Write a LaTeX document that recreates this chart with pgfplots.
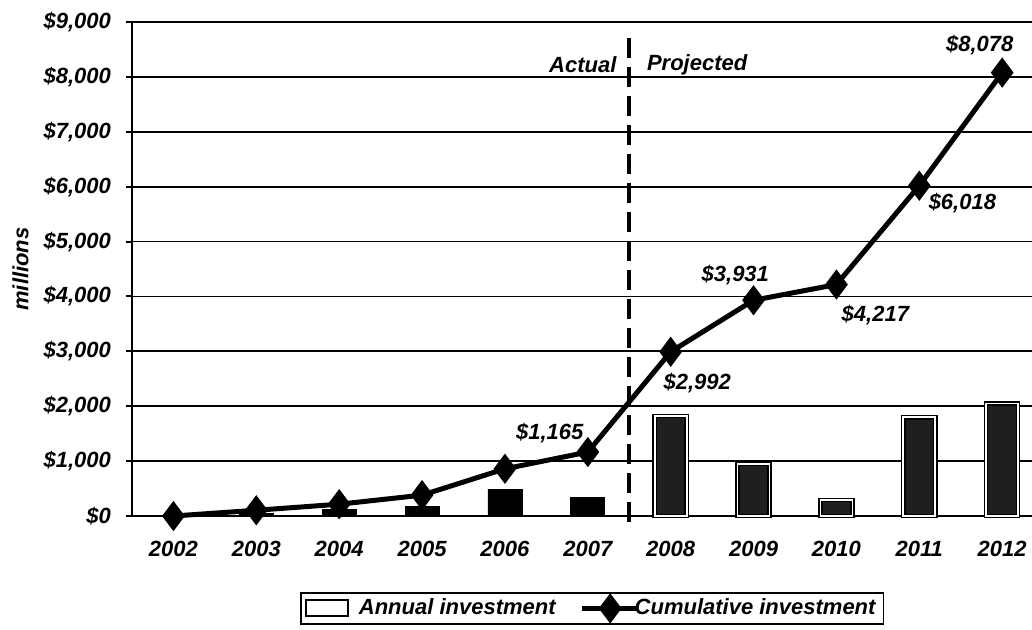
\documentclass[border=0pt]{standalone}
\usepackage{pgfplots}
\pgfplotsset{compat=1.18}
\usepackage{fontspec}
\setmainfont{Liberation Sans}
\newcommand\lf{\fontsize{11}{13}\selectfont\bfseries\itshape}
\pgfplotsset{mylineleg/.style={legend image code/.code={\draw[mark repeat=2,mark phase=2,##1] plot coordinates {(0pt,0pt) (14pt,0pt) (28pt,0pt)};}}}
\begin{document}
\begin{tikzpicture}
\begin{axis}[
  at={(0,0)}, anchor=south west,
  scale only axis, width=450pt, height=247pt,
  xmin=-0.5, xmax=10.36, ymin=0, ymax=9000,
  axis x line*=bottom, axis y line*=left,
  axis line style={black, line width=1pt},
  clip=false,
  tick align=outside,
  xtick={0,...,10},
  xticklabels={2002,2003,2004,2005,2006,2007,2008,2009,2010,2011,2012},
  xtick style={draw=none},
  minor xtick={-0.5,0.5,...,9.5},
  minor tick length=5pt,
  minor x tick style={black, line width=1pt},
  ytick={0,1000,...,9000},
  yticklabels={\$0,\$1{,}000,\$2{,}000,\$3{,}000,\$4{,}000,\$5{,}000,\$6{,}000,\$7{,}000,\$8{,}000,\$9{,}000},
  major tick length=3pt,
  y tick style={black, line width=1pt},
  ymajorgrids, major grid style={black, line width=0.9pt},
  tick label style={font=\lf},
  xticklabel style={yshift=-6pt},
  yticklabel style={xshift=-4pt},
  ylabel={millions}, ylabel style={font=\lf, at={(axis description cs:-0.124,0.5)}, anchor=center},
  legend style={at={(rel axis cs:0.187,-0.154)}, anchor=north west, draw=black, line width=0.8pt,
    font=\lf, legend columns=-1, inner xsep=2pt, inner ysep=1pt,
    /tikz/every odd column/.append style={column sep=-5pt},
    /tikz/every even column/.append style={column sep=10pt}},
]
\addplot[ybar, bar width=17pt, bar shift=0pt, fill=black, draw=black, forget plot]
  coordinates {(0,0) (1,40) (2,125) (3,180) (4,490) (5,335)};
\addplot[ybar, bar width=16pt, bar shift=0pt, fill=black!88, draw=black, line width=0.7pt,
  double=white, double distance=0.9pt, forget plot]
  coordinates {(6,1820) (7,945) (8,295) (9,1800) (10,2050)};
\addplot[black, line width=2pt, dash pattern=on 10pt off 4.5pt, forget plot]
  coordinates {(5.5,-110) (5.5,8816)};
\addlegendimage{legend image code/.code={\draw[black, line width=1pt, fill=white] (0pt,-4pt) rectangle (21pt,4pt); \path (29pt,0pt);}}
\addlegendentry{Annual investment}
\addplot[black, line width=2.5pt, mark=diamond*, mark size=5.5pt, mark options={solid}, mylineleg]
  coordinates {(0,0) (1,105) (2,215) (3,380) (4,860) (5,1165) (6,2992) (7,3931) (8,4217) (9,6018) (10,8078)};
\addlegendentry{Cumulative investment}
\node[font=\lf] at (axis cs:4.54,1512) {\$1,165};
\node[font=\lf] at (axis cs:6.32,2423) {\$2,992};
\node[font=\lf] at (axis cs:6.78,4390) {\$3,931};
\node[font=\lf] at (axis cs:8.47,3661) {\$4,217};
\node[font=\lf] at (axis cs:9.52,5701) {\$6,018};
\node[font=\lf] at (axis cs:9.73,8579) {\$8,078};
\node[font=\lf, anchor=east, inner sep=0pt] at (axis cs:5.35,8215) {Actual};
\node[font=\lf, anchor=west, inner sep=0pt] at (axis cs:5.71,8215) {Projected};
\end{axis}
\pgfresetboundingbox
\useasboundingbox (-66pt,-56.5pt) rectangle (450pt,258pt);
\end{tikzpicture}
\end{document}
